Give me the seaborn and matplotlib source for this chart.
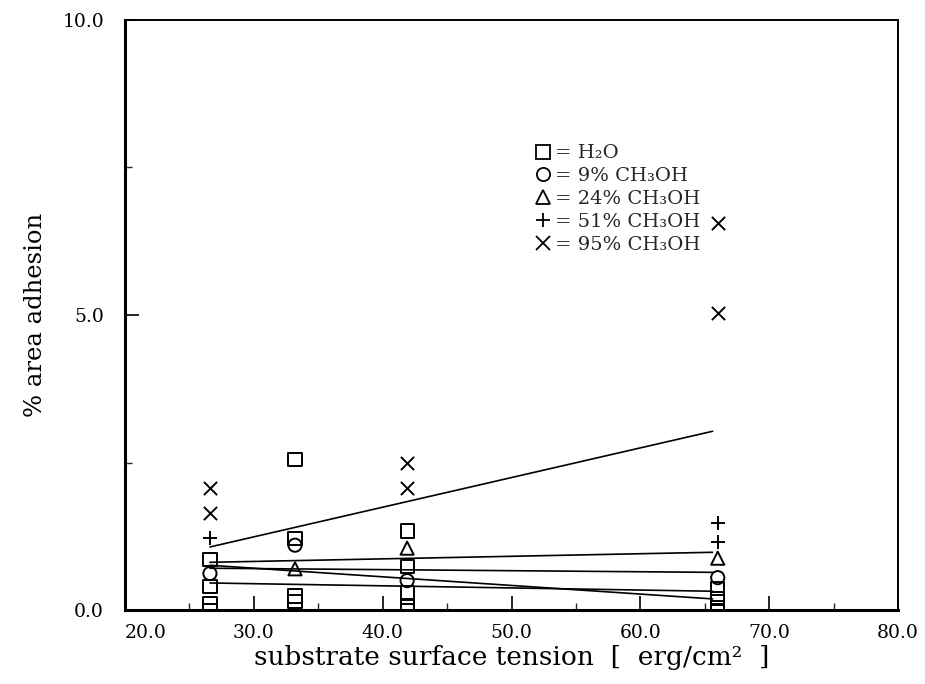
import matplotlib
matplotlib.use("Agg")
import matplotlib.pyplot as plt
import seaborn as sns
import pandas as pd
from matplotlib.lines import Line2D
from matplotlib.ticker import MultipleLocator

# ---------------- data ----------------
series_names = ["H₂O", "9% CH₃OH", "24% CH₃OH", "51% CH₃OH", "95% CH₃OH"]
series_markers = ["s", "o", "^", "+", "x"]

h2o_x = [26.6, 26.6, 26.6, 26.6, 33.2, 33.2, 33.2, 33.2, 41.9, 41.9, 41.9, 41.9, 41.9, 66.0, 66.0, 66.0, 66.0]
h2o_y = [0.86, 0.40, 0.11, 0.00, 2.55, 1.22, 0.24, 0.15, 1.34, 0.74, 0.29, 0.08, 0.00, 0.37, 0.20, 0.05, 0.00]

m9_x = [26.6, 33.2, 41.9, 66.0]
m9_y = [0.62, 1.10, 0.50, 0.55]

m24_x = [33.2, 41.9, 66.0]
m24_y = [0.70, 1.05, 0.88]

m51_x = [26.6, 66.0, 66.0]
m51_y = [1.22, 1.47, 1.15]

m95_x = [26.6, 26.6, 41.9, 41.9, 66.0, 66.0]
m95_y = [2.07, 1.64, 2.49, 2.07, 6.56, 5.03]

# fitted lines (value at first and last substrate)
line_x = [26.6, 65.6]
line_h2o = [0.76, 0.19]
line_m9 = [0.46, 0.32]
line_m24 = [0.71, 0.64]
line_m51 = [0.81, 0.98]
line_m95 = [1.07, 3.03]

x_ticks = [20, 30, 40, 50, 60, 70, 80]
x_ticklabels = ["20.0", "30.0", "40.0", "50.0", "60.0", "70.0", "80.0"]
y_ticks = [0, 5, 10]
y_ticklabels = ["0.0", "5.0", "10.0"]

# ---------------- frames ----------------
pts = pd.concat([
    pd.DataFrame({"x": h2o_x, "y": h2o_y, "series": series_names[0]}),
    pd.DataFrame({"x": m9_x, "y": m9_y, "series": series_names[1]}),
    pd.DataFrame({"x": m24_x, "y": m24_y, "series": series_names[2]}),
    pd.DataFrame({"x": m51_x, "y": m51_y, "series": series_names[3]}),
    pd.DataFrame({"x": m95_x, "y": m95_y, "series": series_names[4]}),
], ignore_index=True)

lines = pd.concat([
    pd.DataFrame({"x": line_x, "y": v, "series": n})
    for n, v in zip(series_names, [line_h2o, line_m9, line_m24, line_m51, line_m95])
], ignore_index=True)

# ---------------- plot ----------------
sns.set_theme(style="white")
plt.rcParams["font.family"] = ["DejaVu Serif", "DejaVu Sans"]
plt.rcParams["mathtext.fontset"] = "dejavuserif"

fig, ax = plt.subplots(figsize=(9.25, 6.84), dpi=100)
fig.subplots_adjust(left=0.135, right=0.971, bottom=0.108, top=0.971)

sns.lineplot(data=lines, x="x", y="y", units="series", estimator=None,
             color="black", linewidth=1.2, ax=ax, legend=False)

msize = 90
for name, mk in zip(series_names, series_markers):
    sub = pts[pts["series"] == name]
    if mk in ("s", "o", "^"):
        sns.scatterplot(data=sub, x="x", y="y", marker=mk, s=msize, color="black",
                        facecolor="none", edgecolor="black", linewidth=1.4,
                        ax=ax, legend=False, zorder=3)
    else:
        sns.scatterplot(data=sub, x="x", y="y", marker=mk, s=msize, color="black",
                        linewidth=1.4, ax=ax, legend=False, zorder=3)

ax.set_xlim(20, 80)
ax.set_ylim(0, 10)
ax.set_xticks(x_ticks)
ax.set_xticklabels(x_ticklabels)
ax.set_yticks(y_ticks)
ax.set_yticklabels(y_ticklabels)
ax.xaxis.set_minor_locator(MultipleLocator(5))
ax.yaxis.set_minor_locator(MultipleLocator(2.5))
ax.tick_params(axis="both", which="major", direction="in", length=10, width=1.2,
               labelsize=13.5, colors="black")
ax.tick_params(axis="x", which="major", pad=10)
ax.tick_params(axis="y", which="major", pad=15)
ax.tick_params(axis="both", which="minor", direction="in", length=5, width=1.0)
ax.tick_params(bottom=True, left=True, top=False, right=False, which="both")
xtl = ax.get_xticklabels()
xtl[0].set_horizontalalignment("left")

for side, sp in ax.spines.items():
    sp.set_color("black")
    sp.set_linewidth(2.2 if side in ("left", "bottom") else 1.4)

ax.set_xlabel("substrate surface tension  [  erg/cm²  ]", fontsize=19, color="black", labelpad=2)
ax.set_ylabel("% area adhesion", fontsize=17.5, color="black", labelpad=11)

handles = []
for name, mk in zip(series_names, series_markers):
    if mk in ("s", "o", "^"):
        h = Line2D([], [], linestyle="none", marker=mk, markersize=9.5,
                   markerfacecolor="none", markeredgecolor="black", markeredgewidth=1.3)
    else:
        h = Line2D([], [], linestyle="none", marker=mk, markersize=9.5,
                   color="black", markeredgewidth=1.3)
    handles.append(h)
ax.legend(handles, ["= " + n for n in series_names], loc="upper left",
          bbox_to_anchor=(0.530, 0.789), frameon=False, fontsize=14,
          handlelength=0.9, handletextpad=0.15, labelspacing=0.25,
          borderpad=0, borderaxespad=0)

fig.savefig("out.png", dpi=100, facecolor="white")
